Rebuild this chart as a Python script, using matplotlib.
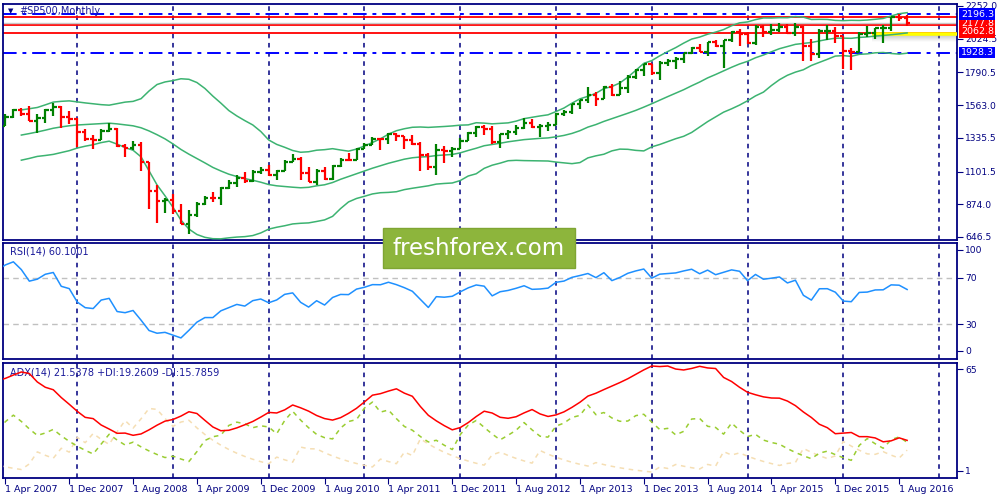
import numpy as np
import matplotlib
matplotlib.use("Agg")
import matplotlib.pyplot as plt
import matplotlib.transforms as mtransforms
from matplotlib.patches import Rectangle

# monthly bars #SP500, Nov 2005 .. Sep 2016 (first visible bar = Apr 2007)
first_open = 1207
closes = [1249, 1248,
          1280, 1281, 1295, 1311, 1270, 1270, 1277, 1304, 1336, 1378, 1401, 1418,
          1438, 1407, 1421, 1482, 1531, 1503, 1455, 1474, 1527, 1549, 1481, 1468,
          1379, 1331, 1323, 1386, 1400, 1280, 1267, 1283, 1166, 969, 896, 903,
          826, 735, 798, 873, 919, 919, 987, 1021, 1057, 1036, 1096, 1115,
          1074, 1104, 1169, 1187, 1089, 1031, 1102, 1049, 1141, 1183, 1181, 1258,
          1286, 1327, 1326, 1364, 1345, 1321, 1292, 1219, 1131, 1253, 1247, 1258,
          1312, 1366, 1408, 1398, 1310, 1362, 1379, 1407, 1441, 1412, 1416, 1426,
          1498, 1515, 1569, 1598, 1631, 1606, 1686, 1633, 1682, 1757, 1806, 1848,
          1783, 1859, 1872, 1884, 1924, 1960, 1931, 2003, 1972, 2018, 2068, 2059,
          1995, 2105, 2068, 2086, 2107, 2063, 2104, 1972, 1920, 2079, 2080, 2044,
          1940, 1932, 2060, 2065, 2097, 2099, 2174, 2171, 2133]
highs = [1270, 1276,
         1295, 1297, 1310, 1318, 1326, 1286, 1280, 1306, 1340, 1389, 1407, 1432,
         1441, 1461, 1438, 1498, 1535, 1540, 1556, 1503, 1539, 1576, 1554, 1523,
         1471, 1396, 1352, 1397, 1440, 1404, 1292, 1313, 1304, 1167, 1007, 919,
         944, 875, 832, 888, 930, 957, 997, 1040, 1080, 1101, 1113, 1130,
         1150, 1113, 1180, 1220, 1205, 1131, 1120, 1130, 1150, 1196, 1228, 1263,
         1303, 1344, 1333, 1370, 1371, 1346, 1356, 1307, 1230, 1293, 1278, 1270,
         1333, 1378, 1420, 1422, 1415, 1363, 1392, 1426, 1475, 1470, 1435, 1448,
         1510, 1530, 1570, 1598, 1687, 1654, 1698, 1710, 1730, 1775, 1814, 1849,
         1851, 1867, 1884, 1897, 1924, 1968, 1991, 2005, 2019, 2019, 2076, 2094,
         2072, 2120, 2117, 2126, 2135, 2130, 2133, 2113, 2021, 2094, 2117, 2104,
         2046, 1963, 2073, 2112, 2100, 2120, 2178, 2194, 2190]
lows = [1201, 1246,
        1245, 1253, 1268, 1280, 1245, 1219, 1224, 1262, 1290, 1327, 1360, 1385,
        1403, 1389, 1364, 1416, 1476, 1484, 1453, 1371, 1439, 1490, 1407, 1435,
        1271, 1316, 1257, 1320, 1373, 1272, 1200, 1248, 1107, 840, 741, 815,
        805, 735, 667, 784, 866, 888, 869, 978, 993, 1020, 1030, 1086,
        1071, 1045, 1102, 1167, 1040, 1029, 1011, 1040, 1040, 1132, 1174, 1180,
        1257, 1284, 1249, 1294, 1311, 1258, 1283, 1102, 1114, 1075, 1159, 1202,
        1258, 1312, 1340, 1358, 1292, 1267, 1325, 1355, 1397, 1403, 1343, 1385,
        1426, 1485, 1501, 1536, 1581, 1560, 1605, 1628, 1633, 1646, 1747, 1768,
        1771, 1738, 1834, 1815, 1859, 1915, 1930, 1904, 1964, 1821, 2001, 1973,
        1988, 1981, 2039, 2048, 2068, 2056, 2045, 1867, 1872, 1893, 2019, 1993,
        1812, 1810, 1931, 2034, 2025, 1992, 2075, 2148, 2110]
opens = [first_open] + closes[:-1]
hidden_bars = 17

tick_labels = ["1 Apr 2007", "1 Dec 2007", "1 Aug 2008", "1 Apr 2009", "1 Dec 2009",
               "1 Aug 2010", "1 Apr 2011", "1 Dec 2011", "1 Aug 2012", "1 Apr 2013",
               "1 Dec 2013", "1 Aug 2014", "1 Apr 2015", "1 Dec 2015", "1 Aug 2016"]
year_lines = [9, 21, 33, 45, 57, 69, 81, 93, 105, 117]
price_ticks = [646.5, 874.0, 1101.5, 1335.5, 1563.0, 1790.5, 2024.5, 2252.0]
red_levels = [2177.8, 2118.5, 2062.8]
blue_levels = [2196.3, 1928.3]
yellow_level = 2062.8

NAVY = "#000080"
FONT = "DejaVu Sans"

c = np.array(closes, float)
h = np.array(highs, float)
l = np.array(lows, float)
o = np.array(opens, float)
n = len(c)
x = np.arange(n) - hidden_bars

# Bollinger bands 20, 2
mid = np.full(n, np.nan); up = np.full(n, np.nan); dn = np.full(n, np.nan)
for i in range(19, n):
    w = c[i - 19:i + 1]
    mid[i] = w.mean(); sd = w.std()
    up[i] = mid[i] + 2 * sd; dn[i] = mid[i] - 2 * sd

# RSI 14
rsi = np.full(n, np.nan)
d = np.diff(c)
gain = np.clip(d, 0, None); loss = np.clip(-d, 0, None)
ag = gain[:14].mean(); al = loss[:14].mean()
rsi[14] = 100 - 100 / (1 + ag / al)
for i in range(15, n):
    ag = (ag * 13 + gain[i - 1]) / 14
    al = (al * 13 + loss[i - 1]) / 14
    rsi[i] = 100 - 100 / (1 + ag / al)

# ADX 14 (MT4 style)
psdi = np.zeros(n); msdi = np.zeros(n)
for i in range(1, n):
    pdm = max(h[i] - h[i - 1], 0); mdm = max(l[i - 1] - l[i], 0)
    if pdm == mdm:
        pdm = mdm = 0
    elif pdm < mdm:
        pdm = 0
    else:
        mdm = 0
    tr = max(h[i] - l[i], abs(h[i] - c[i - 1]), abs(l[i] - c[i - 1]))
    psdi[i] = 100 * pdm / tr; msdi[i] = 100 * mdm / tr


def ema(a, p):
    k = 2.0 / (p + 1)
    out = np.empty_like(a); out[0] = a[0]
    for i in range(1, len(a)):
        out[i] = a[i] * k + out[i - 1] * (1 - k)
    return out


pdi = ema(psdi, 14); mdi = ema(msdi, 14)
s = pdi + mdi
dx = np.where(s > 0, 100 * np.abs(pdi - mdi) / np.where(s > 0, s, 1), 0)
adx = ema(dx, 14)

fig = plt.figure(figsize=(10, 5), dpi=100)
ax1 = fig.add_axes([0.003, 0.52, 0.954, 0.472])
ax2 = fig.add_axes([0.003, 0.282, 0.954, 0.232])
ax3 = fig.add_axes([0.003, 0.044, 0.954, 0.23])
xlim = (-0.3, 119.25)

for ax in (ax1, ax2, ax3):
    ax.set_xlim(*xlim)
    for sp in ax.spines.values():
        sp.set_color(NAVY); sp.set_linewidth(1.3)
    for yl in year_lines:
        ax.axvline(yl, color=NAVY, lw=1.1, ls=(0, (3, 3)), zorder=1)
    ax.yaxis.tick_right()
    ax.tick_params(axis="y", direction="out", length=4, colors=NAVY, labelsize=6.6, pad=2,
                   labelcolor=NAVY)
    ax.tick_params(axis="x", bottom=False, labelbottom=False)
    for t in ax.get_yticklabels():
        t.set_family(FONT)

# ---- main price panel
ax1.set_ylim(625.6, 2265.9)
ax1.set_yticks(price_ticks)
ax1.set_yticklabels([f"{p:.1f}" for p in price_ticks])

for lv in red_levels:
    ax1.axhline(lv, color="#ff0000", lw=1.3, zorder=2)
for lv in blue_levels:
    ax1.axhline(lv, color="#0000ff", lw=1.4, ls=(0, (7, 3, 2, 3)), zorder=2)
ax1.axhline(c[-1], color="#c8c8c8", lw=1, zorder=2)

# shadow + yellow line
grad = np.zeros((40, 2, 4))
grad[..., :3] = 0.55
grad[..., 3] = np.linspace(0.6, 0.0, 40)[:, None]
ax1.imshow(grad, extent=[108.6, xlim[1], 2004, yellow_level], aspect="auto",
           zorder=2, interpolation="bilinear")
ax1.plot([108.6, xlim[1]], [yellow_level - 6, yellow_level - 6], color="#ffff00", lw=2.6,
         zorder=3, solid_capstyle="butt")

ax1.plot(x, up, color="#3cb371", lw=1.1, zorder=3)
ax1.plot(x, mid, color="#3cb371", lw=1.1, zorder=3)
ax1.plot(x, dn, color="#3cb371", lw=1.1, zorder=3)

cols = np.where(c > o, "#008000", "#ff0000")
vis = x >= 0
ax1.vlines(x[vis], l[vis], h[vis], colors=cols[vis], lw=1.6, zorder=4)
ax1.hlines(o[vis], x[vis] - 0.42, x[vis], colors=cols[vis], lw=1.6, zorder=4)
ax1.hlines(c[vis], x[vis], x[vis] + 0.42, colors=cols[vis], lw=1.6, zorder=4)

btr = mtransforms.blended_transform_factory(ax1.transAxes, ax1.transData)


def price_box(val, color, dy=0):
    tr = mtransforms.offset_copy(btr, fig=fig, x=0, y=dy, units="points")
    ax1.text(1.004, val, f"{val:.1f}", transform=tr, color="white", fontsize=6.8,
             family=FONT, va="center", ha="left", clip_on=False, zorder=10,
             bbox=dict(boxstyle="square,pad=0.14", fc=color, ec="none"))


price_box(2177.8, "#ff0000", dy=-5)
price_box(2196.3, "#0000ff")
price_box(2062.8, "#ff0000", dy=1)
price_box(1928.3, "#0000ff")

fig.text(0.008, 0.978, "\u25bc", fontsize=5, color=NAVY, family=FONT, va="center")
fig.text(0.019, 0.978, "#SP500,Monthly", fontsize=7, color="#1a1a9a", family=FONT, va="center")

# ---- RSI panel
ax2.set_ylim(0, 100)
ax2.plot(x, rsi, color="#1e90ff", lw=1.1, zorder=3)
for lv in (30, 70):
    ax2.axhline(lv, color="#c0c0c0", lw=1, ls=(0, (4, 3)), zorder=2)
ax2.set_yticks([7.3, 30, 70, 94])
ax2.set_yticklabels(["0", "30", "70", "100"])
ax2.text(0.007, 0.93, "RSI(14) 60.1001", transform=ax2.transAxes, fontsize=7,
         color="#1a1a9a", family=FONT, va="center")

# ---- ADX panel
vals = np.concatenate([adx[vis], pdi[vis], mdi[vis]])
dmin, dmax = vals.min(), vals.max()
rng = dmax - dmin
ax3.set_ylim(dmin - rng * 6 / 106, dmax + rng * 3 / 106)
ax3.plot(x, mdi, color="#f5deb3", lw=1.1, ls=(0, (3, 3)), zorder=3)
ax3.plot(x, pdi, color="#9acd32", lw=1.1, ls=(0, (3, 3)), zorder=3)
ax3.plot(x, adx, color="#ff0000", lw=1.1, zorder=4)
ax3.set_yticks([dmin + rng * 0.01, dmax - rng * 0.03])
ax3.set_yticklabels(["1", "65"])
ax3.text(0.007, 0.92, "ADX(14) 21.5378 +DI:19.2609 -DI:15.7859", transform=ax3.transAxes,
         fontsize=7, color="#1a1a9a", family=FONT, va="center")

ax3.set_xticks(np.arange(0, 8 * len(tick_labels), 8))
ax3.set_xticklabels(tick_labels, ha="left")
ax3.tick_params(axis="x", bottom=True, labelbottom=True, direction="out", length=4,
                colors=NAVY, labelsize=6.8, pad=1)
for t in ax3.get_xticklabels():
    t.set_family(FONT); t.set_color(NAVY)

# watermark
fig.patches.append(Rectangle((0.383, 1 - 268 / 500), 0.192, 0.08, transform=fig.transFigure,
                             fc="#8db53c", ec="#7fa533", lw=1, zorder=20))
fig.text(0.479, 0.503, "freshforex.com", fontsize=16.5, color="white", family=FONT,
         ha="center", va="center", zorder=21)

fig.savefig("out.png", dpi=100)
